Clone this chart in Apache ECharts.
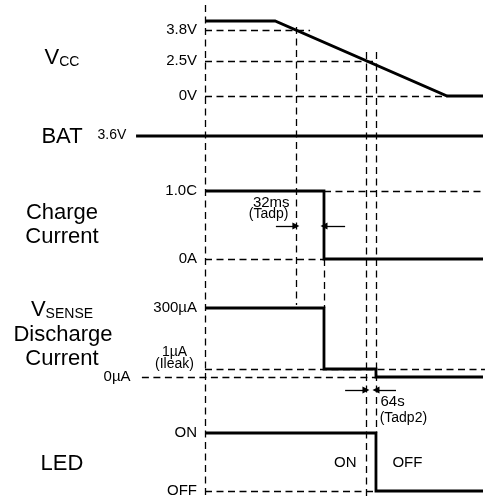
<!DOCTYPE html>
<html><head><meta charset="utf-8">
<script src="https://cdn.jsdelivr.net/npm/echarts@6/dist/echarts.min.js"></script>
<style>html,body{margin:0;padding:0;background:#fff}#c{width:485px;height:497px}</style>
</head><body><div id="c"></div>
<script>
// ---------- time marks (arbitrary time units, 0 = start of diagram) ----------
const T = {
  batStart: -24.8, leakStart: -22.7, start: 0, vccFall: 25.2, tadpStart: 32.7,
  vcc38End: 37.8, chgOff: 42.8, arrowTail1: 50.4, vcc25: 57.9, ledOff: 61.5,
  arrowTail2: 68.7, vccZero: 87.1, end: 100, past: 100.7, arrowTail0: 25.5
};
// ---------- signal levels (diagram rows, measured downward) ----------
const LV = {
  top: 5, vccTop: 21, vcc38: 30, vccGuide: 27, vcc25: 61, vcc25Guide: 52, vcc0: 96,
  bat: 136, chg1C: 191, chg0: 259, tadpArrow: 226,
  dis300: 308, dis1: 369, dis0: 377, tadp2Arrow: 390,
  ledOn: 433, ledOff: 491, bottom: 497
};
const diagramDepth = 497;

// ---------- signal traces ----------
const vccTrace = [[T.start, LV.vccTop], [T.vccFall, LV.vccTop], [T.vccZero, LV.vcc0], [T.end, LV.vcc0]];
const batTrace = [[T.batStart, LV.bat], [T.end, LV.bat]];
const chargeTrace = [[T.start, LV.chg1C], [T.chgOff, LV.chg1C], [T.chgOff, LV.chg0], [T.end, LV.chg0]];
const dischargeTrace = [[T.start, LV.dis300], [T.chgOff, LV.dis300], [T.chgOff, LV.dis1],
  [T.ledOff, LV.dis1], [T.ledOff, LV.dis0], [T.end, LV.dis0]];
const ledTrace = [[T.start, LV.ledOn], [T.ledOff, LV.ledOn], [T.ledOff, LV.ledOff], [T.end, LV.ledOff]];

// ---------- tick labels ----------
const tickLabels = [
  ['3.8V', LV.vcc38], ['2.5V', LV.vcc25], ['0V', LV.vcc0],
  ['1.0C', LV.chg1C], ['0A', LV.chg0],
  ['300µA', LV.dis300],
  ['ON', LV.ledOn], ['OFF', LV.ledOff]
];

// ---------- dashed guides ----------
const guides = [
  [[T.start, LV.top], [T.start, LV.bottom]],
  [[T.tadpStart, LV.vccGuide], [T.tadpStart, LV.dis300 - 3]],
  [[T.chgOff, LV.chg0], [T.chgOff, LV.dis300]],
  [[T.vcc25, LV.vcc25Guide], [T.vcc25, LV.bottom]],
  [[T.ledOff, LV.vcc25Guide], [T.ledOff, LV.ledOn]],
  [[T.start, LV.vcc38], [T.vcc38End, LV.vcc38]],
  [[T.start, LV.vcc25], [T.ledOff, LV.vcc25]],
  [[T.start, LV.vcc0], [T.vccZero, LV.vcc0]],
  [[T.chgOff, LV.chg1C], [T.past, LV.chg1C]],
  [[T.start, LV.chg0], [T.chgOff, LV.chg0]],
  [[T.start, LV.dis1], [T.past, LV.dis1]],
  [[T.leakStart, LV.dis0], [T.ledOff, LV.dis0]],
  [[T.start, LV.ledOff], [T.ledOff, LV.ledOff]]
];

// ---------- dimension arrows ----------
const arrows = [
  [[T.arrowTail0, LV.tadpArrow], [T.tadpStart, LV.tadpArrow]],
  [[T.arrowTail1, LV.tadpArrow], [T.chgOff, LV.tadpArrow]],
  [[T.arrowTail1, LV.tadp2Arrow], [T.vcc25, LV.tadp2Arrow]],
  [[T.arrowTail2, LV.tadp2Arrow], [T.ledOff, LV.tadp2Arrow]]
];

// ---------- annotations ----------
const notes = [
  { text: '3.6V', at: [-28.1, 136], align: 'right', size: 14 },
  { text: '0µA', at: [-26.6, 377], align: 'right', size: 15 },
  { text: '1µA', at: [-10.8, 353], align: 'center', size: 14 },
  { text: '(Ileak)', at: [-10.8, 365], align: 'center', size: 14 },
  { text: '32ms', at: [30.6, 203], align: 'right', size: 15 },
  { text: '(Tadp)', at: [30.2, 215], align: 'right', size: 14 },
  { text: '64s', at: [63.3, 402], align: 'left', size: 15 },
  { text: '(Tadp2)', at: [63.0, 419], align: 'left', size: 14 },
  { text: 'ON', at: [54.7, 463], align: 'right', size: 15 },
  { text: 'OFF', at: [67.6, 463], align: 'left', size: 15 }
];

const FONT = "'Liberation Sans', Arial, Helvetica, sans-serif";

const chart = echarts.init(document.getElementById('c'), null, { renderer: 'canvas' });
const tickMap = Object.fromEntries(tickLabels.map(([t, v]) => [v, t]));

const rowLabel = (x, y, text, rich) => ({
  type: 'text', x, y, silent: true,
  style: { text, rich, align: 'center', verticalAlign: 'middle', fill: '#000',
           font: '22px ' + FONT }
});
const bigSmall = {
  b: { fontSize: 22, fontFamily: FONT, lineHeight: 22, verticalAlign: 'bottom', color: '#000' },
  s: { fontSize: 14, fontFamily: FONT, lineHeight: 16, verticalAlign: 'bottom', color: '#000' }
};

chart.setOption({
  animation: false,
  backgroundColor: '#fff',
  grid: { left: 205, right: 2, top: 0, bottom: 0, containLabel: false, outerBoundsMode: 'none' },
  xAxis: { type: 'value', min: T.start, max: T.end, show: false },
  yAxis: {
    type: 'value', min: 0, max: diagramDepth, inverse: true,
    axisLine: { show: false }, axisTick: { show: false }, splitLine: { show: false },
    axisLabel: {
      show: true, customValues: tickLabels.map(d => d[1]), margin: 8,
      color: '#000', fontSize: 15, fontFamily: FONT,
      formatter: v => tickMap[v] || ''
    }
  },
  graphic: [
    rowLabel(62, 58, '{b|V}{s|CC}', bigSmall),
    rowLabel(62, 137, 'BAT'),
    rowLabel(62, 213, 'Charge'),
    rowLabel(62, 237, 'Current'),
    rowLabel(62, 310, '{b|V}{s|SENSE}', bigSmall),
    rowLabel(63, 335, 'Discharge'),
    rowLabel(62, 359, 'Current'),
    rowLabel(62, 464, 'LED')
  ],
  series: [
    {
      type: 'lines', coordinateSystem: 'cartesian2d', clip: false, silent: true, z: 2,
      data: guides.map(c => ({ coords: c })),
      lineStyle: { color: '#000', width: 1.3, type: [7, 4.5], opacity: 1 }
    },
    {
      type: 'lines', coordinateSystem: 'cartesian2d', polyline: true, clip: false, silent: true, z: 3,
      data: [vccTrace, batTrace, chargeTrace, dischargeTrace, ledTrace].map(c => ({ coords: c })),
      lineStyle: { color: '#000', width: 2.8, type: 'solid', opacity: 1, cap: 'butt', join: 'miter' }
    },
    {
      type: 'lines', coordinateSystem: 'cartesian2d', clip: false, silent: true, z: 4,
      data: arrows.map(c => ({ coords: c })),
      symbol: ['none', 'triangle'], symbolSize: 7,
      lineStyle: { color: '#000', width: 1.3, type: 'solid', opacity: 1 },
      itemStyle: { color: '#000' }
    },
    {
      type: 'scatter', clip: false, silent: true, symbolSize: 1, z: 5,
      itemStyle: { color: 'rgba(255,255,255,0)' },
      data: notes.map(n => ({
        value: n.at,
        label: {
          show: true, formatter: n.text, position: [0, 0], align: n.align,
          verticalAlign: 'middle', fontSize: n.size, fontFamily: FONT, color: '#000',
          opacity: 1, textBorderWidth: 0, textBorderColor: 'transparent',
          textShadowBlur: 0
        }
      }))
    }
  ]
});
</script></body></html>
